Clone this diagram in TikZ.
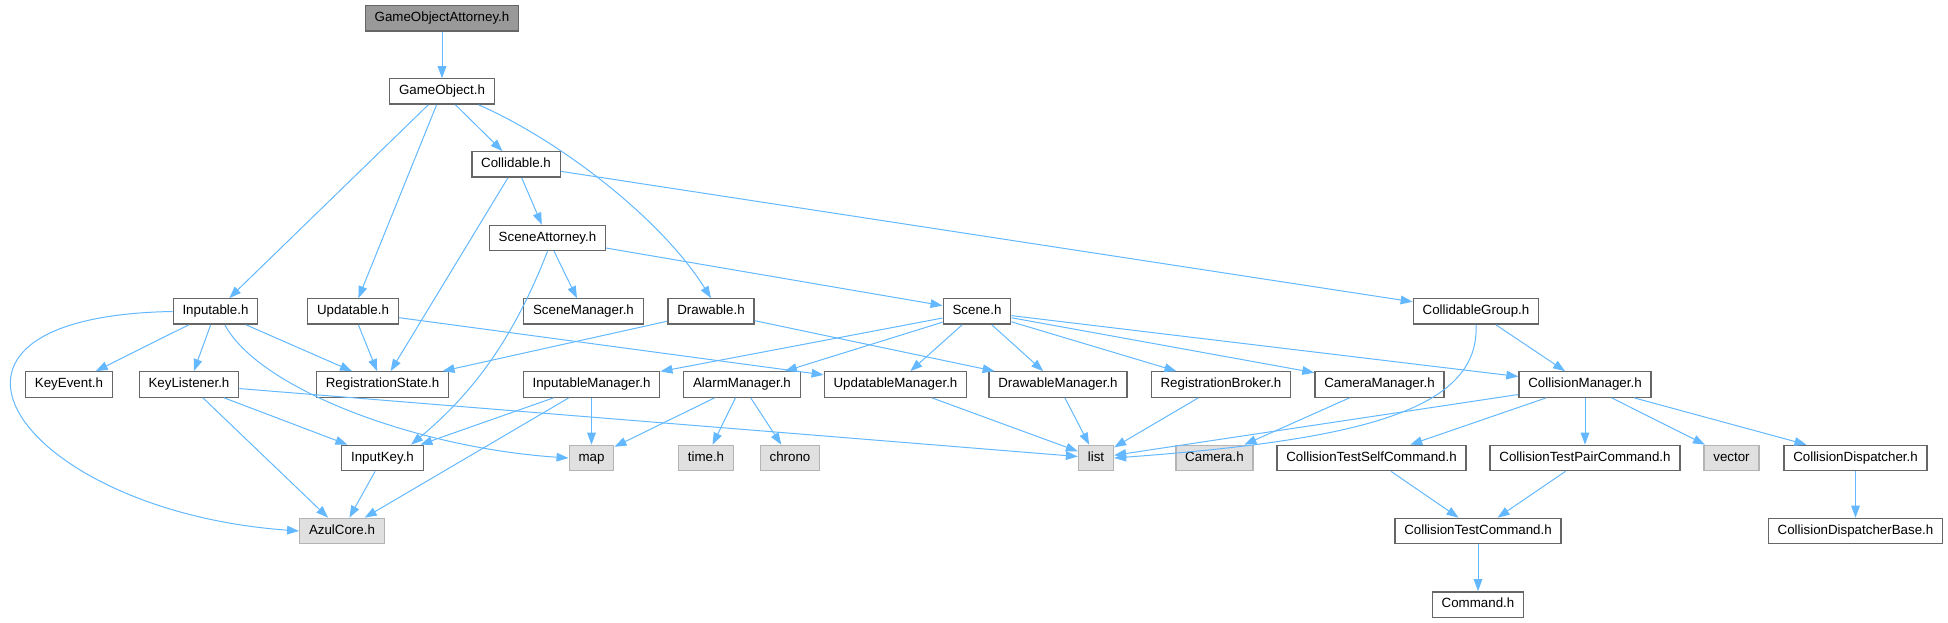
\documentclass[tikz,border=0pt]{standalone}
\usepackage{fontspec}
\setmainfont{Liberation Sans}
\usetikzlibrary{arrows.meta}
\definecolor{dxedge}{RGB}{99,184,255}
\definecolor{dxframe}{RGB}{102,102,102}
\definecolor{dxroot}{RGB}{153,153,153}
\definecolor{dxext}{RGB}{224,224,224}
\definecolor{dxextframe}{RGB}{180,180,180}

\begin{document}
\begin{tikzpicture}[
  x=0.75pt, y=-0.75pt,
  hdr/.style={draw=dxframe, line width=1pt, fill=white, inner xsep=7pt, inner ysep=0pt,
              minimum height=19pt, text height=7.2pt, text depth=2pt,
              font=\fontsize{10}{12}\selectfont},
  root/.style={hdr, fill=dxroot},
  ext/.style={hdr, draw=dxextframe, fill=dxext},
  line/.style={-{Triangle[length=9pt, width=6.5pt]}, draw=dxedge, line width=0.75pt},
]
\useasboundingbox (0,0) rectangle (1948,623);

% upper levels
\node[root] (goatt) at (442,18.5) {GameObjectAttorney.h};
\node[hdr] (gobj) at (442,91.5) {GameObject.h};
\node[hdr] (coll) at (516,164.5) {Collidable.h};
\node[hdr] (scatt) at (547.5,238) {SceneAttorney.h};
\node[hdr] (inp) at (215.5,311.5) {Inputable.h};
\node[hdr] (upd) at (353,311.5) {Updatable.h};
\node[hdr] (scmgr) at (583.5,311.5) {SceneManager.h};
\node[hdr] (drw) at (711,311.5) {Drawable.h};
\node[hdr] (scene) at (977,311.5) {Scene.h};
\node[hdr] (cgrp) at (1476,311.5) {CollidableGroup.h};

% managers
\node[hdr] (kevt) at (69,384.5) {KeyEvent.h};
\node[hdr] (klis) at (189,384.5) {KeyListener.h};
\node[hdr] (regst) at (382.5,384.5) {RegistrationState.h};
\node[hdr] (inpmgr) at (591.5,384.5) {InputableManager.h};
\node[hdr] (almgr) at (742,384.5) {AlarmManager.h};
\node[hdr] (updmgr) at (895.5,384.5) {UpdatableManager.h};
\node[hdr] (drwmgr) at (1058,384.5) {DrawableManager.h};
\node[hdr] (regbrk) at (1221,384.5) {RegistrationBroker.h};
\node[hdr] (cammgr) at (1379.5,384.5) {CameraManager.h};
\node[hdr] (colmgr) at (1585,384.5) {CollisionManager.h};

% leaves
\node[hdr] (ikey) at (382.5,458) {InputKey.h};
\node[ext] (map) at (591.5,458) {map};
\node[ext] (timeh) at (706,458) {time.h};
\node[ext] (chrono) at (790,458) {chrono};
\node[ext] (list) at (1096,458) {list};
\node[ext] (cam) at (1214.5,458) {Camera.h};
\node[hdr] (tself) at (1371.5,458) {CollisionTestSelfCommand.h};
\node[hdr] (tpair) at (1585,458) {CollisionTestPairCommand.h};
\node[ext] (vec) at (1731.5,458) {vector};
\node[hdr] (cdisp) at (1855.5,458) {CollisionDispatcher.h};
\node[ext] (azul) at (342,531) {AzulCore.h};
\node[hdr] (tcmd) at (1478,531) {CollisionTestCommand.h};
\node[hdr] (cdbase) at (1855.5,531) {CollisionDispatcherBase.h};
\node[hdr] (cmd) at (1478,604.5) {Command.h};

\draw[line] (goatt) -- (gobj);
\draw[line] (gobj) -- (inp);
\draw[line] (gobj) -- (upd);
\draw[line] (gobj) -- (coll);
\draw[line] (gobj.-20) .. controls +(80,35) and +(-50,-80) .. (drw.north);
\draw[line] (coll) -- (regst);
\draw[line] (coll) -- (scatt);
\draw[line] (coll) -- (cgrp);
\draw[line] (scatt) -- (scmgr);
\draw[line] (scatt.south) .. controls +(-35,90) and +(60,-50) .. (ikey.25);
\draw[line] (scatt) -- (scene);

\draw[line] (inp.west) .. controls +(-290,5) and +(-280,-20) .. (azul.west);
\draw[line] (inp) -- (kevt);
\draw[line] (inp) -- (klis);
\draw[line] (inp) -- (regst);
\draw[line] (inp.-55) .. controls +(35,65) and +(-150,-10) .. (map.west);
\draw[line] (upd) -- (regst);
\draw[line] (upd) -- (updmgr);
\draw[line] (drw) -- (regst);
\draw[line] (drw) -- (drwmgr);

\draw[line] (scene) -- (inpmgr);
\draw[line] (scene) -- (almgr);
\draw[line] (scene) -- (updmgr);
\draw[line] (scene) -- (drwmgr);
\draw[line] (scene) -- (regbrk);
\draw[line] (scene) -- (cammgr);
\draw[line] (scene) -- (colmgr);
\draw[line] (cgrp) -- (colmgr);
\draw[line] (cgrp.south) .. controls +(4,86) and +(244,-18) .. (list.east);

\draw[line] (klis) -- (ikey);
\draw[line] (klis) -- (azul);
\draw[line] (klis) -- (list);
\draw[line] (inpmgr) -- (map);
\draw[line] (inpmgr) -- (ikey);
\draw[line] (inpmgr) -- (azul);
\draw[line] (ikey) -- (azul);
\draw[line] (almgr) -- (map);
\draw[line] (almgr) -- (timeh);
\draw[line] (almgr) -- (chrono);
\draw[line] (updmgr) -- (list);
\draw[line] (drwmgr) -- (list);
\draw[line] (regbrk) -- (list);
\draw[line] (cammgr) -- (cam);

\draw[line] (colmgr) -- (list);
\draw[line] (colmgr) -- (tself);
\draw[line] (colmgr) -- (tpair);
\draw[line] (colmgr) -- (vec);
\draw[line] (colmgr) -- (cdisp);
\draw[line] (tself) -- (tcmd);
\draw[line] (tpair) -- (tcmd);
\draw[line] (tcmd) -- (cmd);
\draw[line] (cdisp) -- (cdbase);
\end{tikzpicture}
\end{document}
